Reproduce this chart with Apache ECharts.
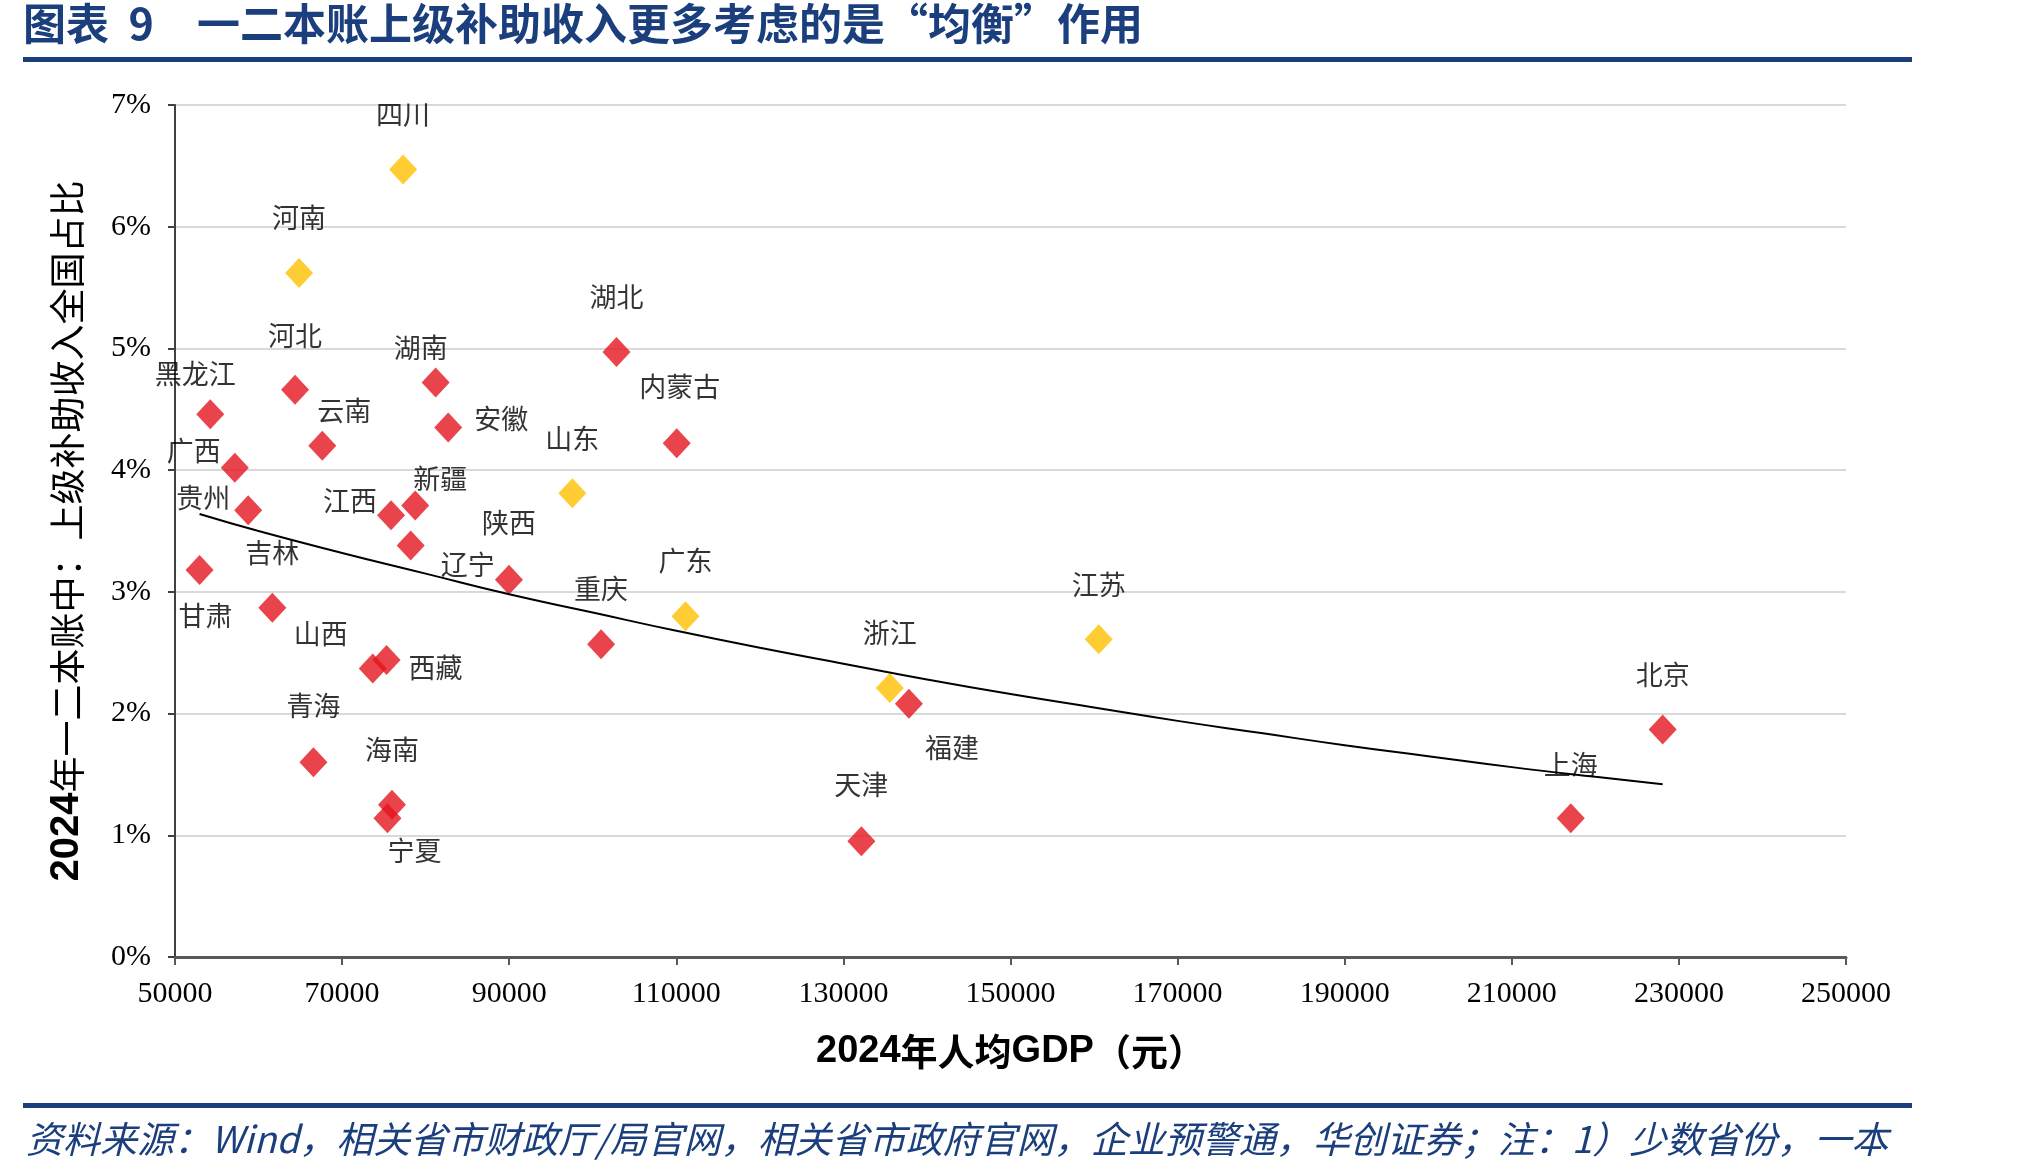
<!DOCTYPE html>
<html>
<head>
<meta charset="utf-8">
<style>
  html, body { margin: 0; padding: 0; background: #fff; }
  #chart { width: 2022px; height: 1173px; }
</style>
<script src="https://cdn.jsdelivr.net/npm/echarts@6/dist/echarts.min.js"></script>
</head>
<body>
<div id="chart"></div>
<script>
// values
const provinces = ['四川', '河南', '湖北', '河北', '湖南', '黑龙江', '安徽', '云南', '内蒙古', '广西', '山东',
  '贵州', '江西', '新疆', '辽宁', '陕西', '甘肃', '吉林', '山西', '西藏', '重庆', '广东', '青海', '海南', '宁夏',
  '浙江', '福建', '江苏', '天津', '上海', '北京'];
const gdpPerCapita = [77300, 64850, 102840, 64370, 81200, 54220, 82700, 67630, 110050, 57160, 97560,
  58760, 75860, 78750, 78210, 89970, 52940, 61650, 73670, 75320, 101000, 111100, 66570, 75970, 75430,
  135550, 137840, 160560, 132150, 217060, 228060];
const transferShare = [6.47, 5.62, 4.97, 4.66, 4.72, 4.46, 4.35, 4.20, 4.22, 4.02, 3.81,
  3.67, 3.63, 3.71, 3.38, 3.10, 3.18, 2.87, 2.37, 2.44, 2.57, 2.80, 1.60, 1.25, 1.14,
  2.21, 2.08, 2.61, 0.95, 1.14, 1.87];
const highlighted = ['四川', '河南', '山东', '广东', '浙江', '江苏'];

// trend line, read at points along the curve
const trendGdp = [52940, 60000, 70000, 80000, 90000, 100000, 110000, 120000, 130000, 140000,
  150000, 160000, 170000, 180000, 190000, 200000, 210000, 220000, 228060];
const trendShare = [3.64, 3.50, 3.32, 3.15, 2.98, 2.83, 2.68, 2.54, 2.41, 2.28,
  2.16, 2.05, 1.94, 1.84, 1.74, 1.65, 1.56, 1.48, 1.42];

const xTicks = { min: 50000, max: 250000, step: 20000 };
const yTicks = { min: 0, max: 7, step: 1 };

// where each province label sits relative to its marker
const labelOffset = {
  '四川': [0, -55], '河南': [0, -55], '湖北': [0, -55], '河北': [0, -54], '湖南': [-15, -35],
  '黑龙江': [-15, -40], '云南': [22, -35], '安徽': [53, -9], '内蒙古': [3, -57], '山东': [0, -55],
  '广西': [-41, -17], '贵州': [-45, -13], '江西': [-41, -14], '新疆': [25, -27], '辽宁': [57, 19],
  '陕西': [0, -57], '甘肃': [6, 46], '吉林': [0, -55], '山西': [-52, -35], '西藏': [49, 8],
  '重庆': [0, -55], '广东': [0, -55], '青海': [0, -57], '海南': [0, -55], '宁夏': [27, 32],
  '浙江': [0, -55], '福建': [43, 44], '江苏': [0, -55], '天津': [0, -57], '上海': [0, -54], '北京': [0, -55]
};

const BLUE = '#1B3F7D';
const CJK = '"Noto Sans CJK SC", sans-serif';
const SERIF = '"Liberation Serif", "Times New Roman", serif';
const SANS = '"Liberation Sans", Arial, sans-serif';

function pointsFor(isHighlighted) {
  return provinces
    .map((name, i) => ({ name, i }))
    .filter((p) => highlighted.includes(p.name) === isHighlighted)
    .map((p) => ({
      name: p.name,
      value: [gdpPerCapita[p.i], transferShare[p.i]],
      label: { offset: labelOffset[p.name] || [0, -55] }
    }));
}

const pointLabel = {
  show: true,
  position: 'inside',
  formatter: '{b}',
  color: '#000',
  fontFamily: CJK,
  fontSize: 27
};

const chart = echarts.init(document.getElementById('chart'));
chart.setOption({
  animation: false,
  backgroundColor: '#fff',
  grid: { left: 175, right: 176, top: 105, bottom: 216, containLabel: false },
  xAxis: {
    type: 'value',
    min: xTicks.min,
    max: xTicks.max,
    interval: xTicks.step,
    name: '{d|2024}{c|年人均}{d|GDP}{c|（元）}',
    nameLocation: 'middle',
    nameGap: 76,
    nameTextStyle: {
      rich: {
        d: { fontFamily: SANS, fontWeight: 'bold', fontSize: 38, color: '#000' },
        c: { fontFamily: CJK, fontWeight: 'bold', fontSize: 37, color: '#000' }
      }
    },
    axisLine: { lineStyle: { color: '#595959', width: 3 } },
    axisTick: { show: true, length: 8, lineStyle: { color: '#595959', width: 2 } },
    axisLabel: { color: '#000', fontFamily: SERIF, fontSize: 30, margin: 22, formatter: (v) => String(v) },
    splitLine: { show: false }
  },
  yAxis: {
    type: 'value',
    min: yTicks.min,
    max: yTicks.max,
    interval: yTicks.step,
    name: '{b|2024}{n|年一二本账中：上级补助收入全国占比}',
    nameLocation: 'middle',
    nameGap: 88,
    nameRotate: 90,
    nameTextStyle: {
      rich: {
        b: { fontFamily: SANS, fontWeight: 'bold', fontSize: 40, color: '#000' },
        n: { fontFamily: CJK, fontSize: 36, color: '#000' }
      }
    },
    axisLine: { show: true, lineStyle: { color: '#404040', width: 2 } },
    axisTick: { show: true, length: 7, lineStyle: { color: '#404040', width: 2 } },
    axisLabel: { color: '#000', fontFamily: SERIF, fontSize: 30, margin: 24, formatter: '{value}%' },
    splitLine: { show: true, lineStyle: { color: '#D9D9D9', width: 2 } }
  },
  series: [
    {
      name: 'highlighted',
      type: 'scatter',
      symbol: 'diamond',
      symbolSize: [28, 30],
      itemStyle: { color: '#FFC000' },
      label: pointLabel,
      data: pointsFor(true),
      z: 3
    },
    {
      name: 'others',
      type: 'scatter',
      symbol: 'diamond',
      symbolSize: [28, 30],
      itemStyle: { color: '#E3141E' },
      label: pointLabel,
      data: pointsFor(false),
      z: 4
    },
    {
      name: 'trend',
      type: 'line',
      smooth: true,
      showSymbol: false,
      silent: true,
      lineStyle: { color: '#000', width: 2 },
      data: trendGdp.map((g, i) => [g, trendShare[i]]),
      z: 5
    }
  ],
  graphic: [
    {
      type: 'text', left: 23, top: 2,
      style: { text: '图表  9', fill: BLUE, font: 'bold 43px ' + CJK }
    },
    {
      type: 'text', left: 197, top: 2,
      style: { text: '一二本账上级补助收入更多考虑的是“均衡”作用', fill: BLUE, font: 'bold 43px ' + CJK }
    },
    {
      type: 'rect', shape: { x: 23, y: 57, width: 1889, height: 5 }, style: { fill: BLUE }
    },
    {
      type: 'rect', shape: { x: 23, y: 1103, width: 1889, height: 5 }, style: { fill: BLUE }
    },
    {
      type: 'text', left: 26, top: 1120,
      style: {
        text: '资料来源：Wind，相关省市财政厅/局官网，相关省市政府官网，企业预警通，华创证券；注：1）少数省份，一本',
        fill: BLUE,
        font: 'italic 37px ' + CJK
      }
    }
  ]
});
</script>
</body>
</html>
